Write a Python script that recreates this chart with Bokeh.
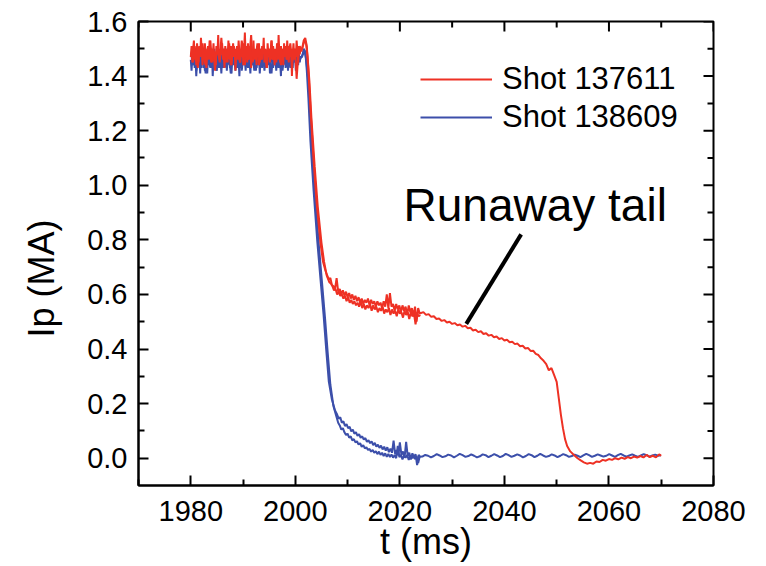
import numpy as np
from bokeh.plotting import figure
from bokeh.models import (Range1d, FixedTicker, NumeralTickFormatter,
                          Legend, LegendItem, Label)
from bokeh.embed import file_html
from bokeh.resources import INLINE

FONT = "Liberation Sans"
RED = "#EE3124"
BLUE = "#3C4FAA"

# ---------------- data ----------------
x_ticks = [1980, 2000, 2020, 2040, 2060, 2080]
x_minor = [1970, 1990, 2010, 2030, 2050, 2070]
y_ticks = [0.0, 0.2, 0.4, 0.6, 0.8, 1.0, 1.2, 1.4, 1.6]
y_minor = [0.1, 0.3, 0.5, 0.7, 0.9, 1.1, 1.3, 1.5]
x_lo, x_hi = 1970, 2080
y_lo, y_hi = -0.1, 1.6

# flat-top samples (start, step)
flatA_t0, flatA_dt = 1980.0, 0.15
flatB_t0, flatB_dt = 1980.15, 0.3

redA_flat = [1.47,1.51,1.45,1.50,1.53,1.46,1.49,1.44,1.52,1.48,
             1.45,1.51,1.47,1.54,1.49,1.44,1.50,1.46,1.52,1.47,
             1.43,1.49,1.51,1.46,1.53,1.48,1.45,1.50,1.47,1.52,
             1.46,1.49,1.44,1.51,1.48,1.55,1.47,1.45,1.50,1.48,
             1.52,1.46,1.49,1.43,1.51,1.47,1.50,1.45,1.53,1.48,
             1.46,1.51,1.44,1.49,1.52,1.47,1.50,1.42,1.48,1.51,
             1.46,1.53,1.49,1.45,1.50,1.47,1.52,1.44,1.49,1.56,
             1.47,1.50,1.45,1.52,1.48,1.46,1.51,1.43,1.49,1.47,
             1.53,1.46,1.50,1.48,1.44,1.51,1.47,1.52,1.45,1.49,
             1.46,1.51,1.48,1.54,1.45,1.50,1.47,1.43,1.52,1.48,
             1.50,1.45,1.49,1.53,1.46,1.51,1.48,1.44,1.50,1.47,
             1.52,1.46,1.55,1.48,1.45,1.51,1.47,1.49,1.44,1.52,
             1.47,1.50,1.46,1.53,1.48,1.45,1.51,1.47,1.50,1.40,
             1.48,1.52,1.46,1.50,1.47,1.53,1.49,1.45,1.51,1.48,
             1.50]
blueA_flat = [1.46,1.42,1.48,1.44,1.50,1.43,1.47,1.40,1.45,1.49,
              1.44,1.47,1.41,1.48,1.45,1.50,1.43,1.46,1.42,1.49,
              1.45,1.41,1.47,1.44,1.49,1.46,1.43,1.48,1.40,1.46,
              1.50,1.44,1.47,1.42,1.48,1.45,1.43,1.49,1.46,1.41,
              1.47,1.44,1.50,1.43,1.46,1.48,1.42,1.47,1.45,1.49,
              1.43,1.46,1.41,1.48,1.44,1.50,1.45,1.42,1.47,1.44,
              1.49,1.46,1.40,1.47,1.43,1.48,1.45,1.51,1.44,1.46,
              1.42,1.48,1.45,1.43,1.49,1.46,1.41,1.47,1.44,1.50,
              1.45,1.42,1.48,1.46,1.43,1.49,1.44,1.47,1.41,1.46,
              1.48,1.44,1.50,1.45,1.42,1.47,1.43,1.49,1.46,1.44,
              1.47,1.41,1.48,1.45,1.50,1.43,1.46,1.44,1.49,1.42,
              1.46,1.48,1.43,1.47,1.45,1.40,1.48,1.44,1.47,1.45,
              1.49,1.43,1.46,1.48,1.42,1.47,1.45,1.50,1.44,1.46,
              1.43,1.48,1.45,1.47,1.42,1.49,1.46,1.44,1.48,1.45,
              1.47]
redB_flat = [1.49,1.45,1.51,1.47,1.43,1.50,1.48,1.52,1.46,1.44,
             1.50,1.47,1.53,1.45,1.49,1.42,1.51,1.48,1.46,1.54,
             1.47,1.50,1.45,1.49,1.52,1.44,1.48,1.51,1.46,1.50,
             1.47,1.45,1.53,1.49,1.44,1.51,1.46,1.48,1.55,1.45,
             1.49,1.47,1.52,1.44,1.50,1.46,1.51,1.48,1.43,1.50,
             1.47,1.53,1.46,1.49,1.45,1.52,1.48,1.44,1.50,1.47,
             1.51,1.46,1.49,1.52,1.45,1.48,1.50,1.39,1.47,1.51,1.49]
blueB_flat = [1.47,1.44,1.50,1.42,1.46,1.48,1.43,1.49,1.45,1.41,
              1.48,1.46,1.43,1.50,1.44,1.47,1.42,1.49,1.45,1.48,
              1.43,1.46,1.50,1.44,1.47,1.41,1.48,1.45,1.49,1.43,
              1.46,1.48,1.42,1.47,1.45,1.50,1.43,1.46,1.49,1.44,
              1.47,1.42,1.48,1.45,1.50,1.43,1.46,1.48,1.44,1.47,
              1.45,1.41,1.49,1.46,1.43,1.48,1.45,1.50,1.42,1.47,
              1.44,1.48,1.46,1.43,1.49,1.45,1.47,1.44,1.48,1.46,1.47]

# current quench (drop) points
redA_drop_t = [2001.3, 2001.6, 2001.9, 2002.2, 2002.5, 2002.9, 2003.5, 2004.1, 2004.8, 2005.3, 2005.8]
redA_drop_v = [1.50, 1.53, 1.54, 1.51, 1.42, 1.28, 1.09, 0.93, 0.79, 0.72, 0.685]
redB_drop_t = [2001.45, 2001.75, 2002.05, 2002.35, 2002.7, 2003.1, 2003.7, 2004.3, 2005.0, 2005.5, 2006.0, 2006.5]
redB_drop_v = [1.51, 1.53, 1.52, 1.47, 1.38, 1.24, 1.07, 0.92, 0.79, 0.72, 0.67, 0.645]
blueA_drop_t = [2001.3, 2001.6, 2001.9, 2002.2, 2002.5, 2002.9, 2003.5, 2004.2, 2004.8, 2005.4, 2005.9, 2006.4, 2007.0, 2007.6]
blueA_drop_v = [1.47, 1.50, 1.49, 1.42, 1.32, 1.16, 0.98, 0.795, 0.66, 0.527, 0.40, 0.282, 0.215, 0.175]
blueB_drop_t = [2001.45, 2001.8, 2002.1, 2002.45, 2002.8, 2003.2, 2003.8, 2004.5, 2005.1, 2005.7, 2006.2, 2006.7, 2007.3, 2007.9]
blueB_drop_v = [1.48, 1.49, 1.46, 1.39, 1.29, 1.14, 0.96, 0.78, 0.645, 0.51, 0.385, 0.27, 0.19, 0.15]

# noisy post-quench segments (step 0.3)
seg_dt = 0.3
redA_plat_t0 = 2006.1
redA_plat = [0.67,0.655,0.66,0.635,0.63,0.62,0.66,0.61,0.62,0.60,
             0.615,0.595,0.61,0.59,0.605,0.585,0.60,0.58,0.595,0.575,
             0.59,0.57,0.585,0.565,0.58,0.57,0.585,0.56,0.58,0.565,
             0.575,0.555,0.575,0.56,0.57,0.55,0.575,0.555,0.60,0.55,
             0.605,0.555,0.565,0.54,0.565,0.545,0.56,0.535,0.56,0.54,
             0.555,0.525,0.56,0.535,0.55,0.52,0.555,0.50,0.55,0.53]
redB_plat_t0 = 2006.8
redB_plat = [0.64,0.63,0.615,0.62,0.60,0.61,0.595,0.60,0.585,0.595,
             0.575,0.59,0.57,0.58,0.565,0.575,0.56,0.57,0.555,0.575,
             0.55,0.565,0.545,0.56,0.55,0.565,0.54,0.56,0.545,0.555,
             0.535,0.55,0.54,0.555,0.53,0.545,0.535,0.55,0.525,0.545,
             0.53,0.54,0.52,0.545,0.53,0.535,0.515,0.54,0.525,0.535,
             0.51,0.535,0.52,0.53,0.49,0.53,0.52,0.525]
blueA_plat_t0 = 2008.0
blueA_plat = [0.16,0.145,0.15,0.13,0.135,0.118,0.125,0.11,0.115,0.098,
              0.105,0.09,0.095,0.082,0.088,0.075,0.08,0.068,0.074,0.06,
              0.066,0.055,0.062,0.048,0.056,0.042,0.05,0.038,0.046,0.032,
              0.042,0.028,0.04,0.022,0.035,0.02,0.064,0.015,0.03,0.01,
              0.058,0.012,0.025,0.002,0.06,0.008,0.02,-0.005,0.018,0.0,
              0.015,-0.025,0.012,0.005]
blueB_plat_t0 = 2008.2
blueB_plat = [0.13,0.12,0.105,0.11,0.095,0.085,0.09,0.075,0.08,0.065,
              0.07,0.058,0.062,0.05,0.055,0.042,0.048,0.036,0.04,0.03,
              0.034,0.024,0.03,0.02,0.026,0.015,0.024,0.012,0.02,0.008,
              0.018,0.005,0.016,0.004,0.014,0.002,0.012,0.0,0.045,0.004,
              0.012,-0.004,0.01,0.002,0.012,-0.006,0.01,0.0,0.012,-0.003,
              0.008,-0.018,0.006]

# runaway tail of shot 137611 (start 2024.5, step 0.5)
redA_tail_t0, redA_tail_dt = 2024.5, 0.5
redA_tail = [0.535,0.525,0.528,0.518,0.52,0.51,0.512,0.503,0.506,0.497,
             0.50,0.492,0.495,0.487,0.49,0.482,0.485,0.476,0.478,0.468,
             0.471,0.462,0.465,0.455,0.458,0.449,0.452,0.443,0.446,0.437,
             0.44,0.431,0.434,0.425,0.427,0.418,0.42,0.41,0.412,0.402,
             0.404,0.393,0.394,0.382,0.378,0.366,0.357,0.345,0.322,0.33,
             0.305,0.28]
redA_end_t = [2050.4, 2050.8, 2051.2, 2051.6, 2052.0, 2052.6, 2053.3, 2054.0, 2054.6, 2055.2,
              2055.8, 2056.4, 2057.0, 2057.6, 2058.2, 2058.8, 2059.4, 2060.0, 2060.6, 2061.2,
              2061.8, 2062.4, 2063.0, 2063.6, 2064.2, 2064.8, 2065.4, 2066.0, 2066.6, 2067.2,
              2067.8, 2068.4, 2069.0, 2069.6, 2070.0]
redA_end_v = [0.22, 0.16, 0.11, 0.07, 0.045, 0.025, 0.012, 0.0, -0.008, -0.015,
              -0.02, -0.017, -0.02, -0.012, -0.014, -0.006, -0.009, -0.003, -0.006, 0.0,
              -0.004, 0.002, -0.002, 0.004, 0.0, 0.006, 0.002, 0.008, 0.003, 0.012,
              0.004, 0.009, 0.003, 0.014, 0.009]

# residual current of shot 138609 (start 2024.3, step 0.55)
blueA_tail_t0, blueA_tail_dt = 2024.3, 0.55
blueA_tail = [0.006,0.012,0.009,0.003,0.008,0.015,0.010,0.004,0.007,0.013,
              0.010,0.003,0.009,0.016,0.011,0.005,0.008,0.014,0.009,0.003,
              0.007,0.014,0.011,0.004,0.009,0.015,0.010,0.004,0.008,0.016,
              0.011,0.005,0.009,0.014,0.010,0.003,0.008,0.015,0.011,0.004,
              0.009,0.016,0.010,0.005,0.008,0.014,0.010,0.004,0.009,0.015,
              0.011,0.005,0.008,0.013,0.009,0.004,0.010,0.016,0.011,0.005,
              0.009,0.014,0.010,0.006,0.009,0.015,0.010,0.005,0.011,0.016,
              0.010,0.006,0.010,0.014,0.009,0.005,0.010,0.015,0.011,0.006,
              0.010,0.013,0.009,0.011]

annot_text = "Runaway tail"
annot_xy = (2020.7, 0.928)
pointer_start = (2043.2, 0.820)
pointer_end = (2032.7, 0.492)


def grid(t0, dt, vals):
    return list(t0 + dt * np.arange(len(vals)))


redA_t = grid(flatA_t0, flatA_dt, redA_flat) + redA_drop_t + grid(redA_plat_t0, seg_dt, redA_plat) \
    + grid(redA_tail_t0, redA_tail_dt, redA_tail) + redA_end_t
redA_v = redA_flat + redA_drop_v + redA_plat + redA_tail + redA_end_v
redB_t = grid(flatB_t0, flatB_dt, redB_flat) + redB_drop_t + grid(redB_plat_t0, seg_dt, redB_plat)
redB_v = redB_flat + redB_drop_v + redB_plat
blueA_t = grid(flatA_t0, flatA_dt, blueA_flat) + blueA_drop_t + grid(blueA_plat_t0, seg_dt, blueA_plat) \
    + grid(blueA_tail_t0, blueA_tail_dt, blueA_tail)
blueA_v = blueA_flat + blueA_drop_v + blueA_plat + blueA_tail
blueB_t = grid(flatB_t0, flatB_dt, blueB_flat) + blueB_drop_t + grid(blueB_plat_t0, seg_dt, blueB_plat)
blueB_v = blueB_flat + blueB_drop_v + blueB_plat

# ---------------- figure ----------------
p = figure(width=766, height=566, output_backend="svg", toolbar_location=None,
           x_range=Range1d(x_lo, x_hi), y_range=Range1d(y_lo, y_hi),
           min_border_left=138, min_border_right=53, min_border_top=21, min_border_bottom=81,
           background_fill_color="white", border_fill_color="white")
p.xgrid.visible = False
p.ygrid.visible = False
p.outline_line_color = "black"
p.outline_line_width = 2

for ax, ticks, minor in ((p.xaxis[0], x_ticks, x_minor), (p.yaxis[0], y_ticks, y_minor)):
    ax.ticker = FixedTicker(ticks=ticks, minor_ticks=minor)
    ax.axis_line_width = 2
    ax.axis_line_color = "black"
    ax.major_tick_line_width = 2
    ax.minor_tick_line_width = 2
    ax.major_tick_in = 10
    ax.major_tick_out = 0
    ax.minor_tick_in = 6
    ax.minor_tick_out = 0
    ax.major_label_text_font = FONT
    ax.major_label_text_font_size = "29px"
    ax.major_label_text_color = "black"
    ax.axis_label_text_font = FONT
    ax.axis_label_text_font_size = "36px"
    ax.axis_label_text_font_style = "normal"
    ax.axis_label_text_color = "black"

p.xaxis.axis_label = "t (ms)"
p.xaxis.major_label_standoff = 15
p.xaxis.axis_label_standoff = -3
# trailing no-break spaces shift the centred title slightly downward, as in the reference
p.yaxis.axis_label = "Ip (MA)" + "\u00a0" * 5
p.yaxis.major_label_standoff = 11
p.yaxis.axis_label_standoff = 22
p.yaxis.formatter = NumeralTickFormatter(format="0.0")

# inward ticks on the top and right frame edges (mirror of the axes)
p.scatter(x=x_ticks, y=[y_hi] * len(x_ticks), marker="dash", angle=np.pi / 2, size=20,
          line_color="black", line_width=2)
p.scatter(x=x_minor, y=[y_hi] * len(x_minor), marker="dash", angle=np.pi / 2, size=12,
          line_color="black", line_width=2)
p.scatter(x=[x_hi] * len(y_ticks), y=y_ticks, marker="dash", size=20,
          line_color="black", line_width=2)
p.scatter(x=[x_hi] * len(y_minor), y=y_minor, marker="dash", size=12,
          line_color="black", line_width=2)

lw = 2
p.line(blueB_t, blueB_v, line_color=BLUE, line_width=lw)
ra_blue = p.line(blueA_t, blueA_v, line_color=BLUE, line_width=lw)
p.line(redB_t, redB_v, line_color=RED, line_width=lw)
ra_red = p.line(redA_t, redA_v, line_color=RED, line_width=lw)

p.segment(x0=[pointer_start[0]], y0=[pointer_start[1]], x1=[pointer_end[0]], y1=[pointer_end[1]],
          line_color="black", line_width=4)

p.add_layout(Label(x=annot_xy[0], y=annot_xy[1], text=annot_text, text_font=FONT,
                   text_font_size="46px", text_color="black", text_baseline="alphabetic"))

legend = Legend(items=[LegendItem(label="Shot 137611", renderers=[ra_red]),
                       LegendItem(label="Shot 138609", renderers=[ra_blue])],
                location=(282, 349), label_text_font=FONT, label_text_font_size="31px",
                label_text_color="black",
                glyph_width=72, glyph_height=38, label_height=38, label_standoff=10,
                spacing=0, padding=0, margin=0, border_line_color=None,
                background_fill_alpha=0)
p.add_layout(legend)

open("out.html", "w").write(file_html(p, INLINE))
